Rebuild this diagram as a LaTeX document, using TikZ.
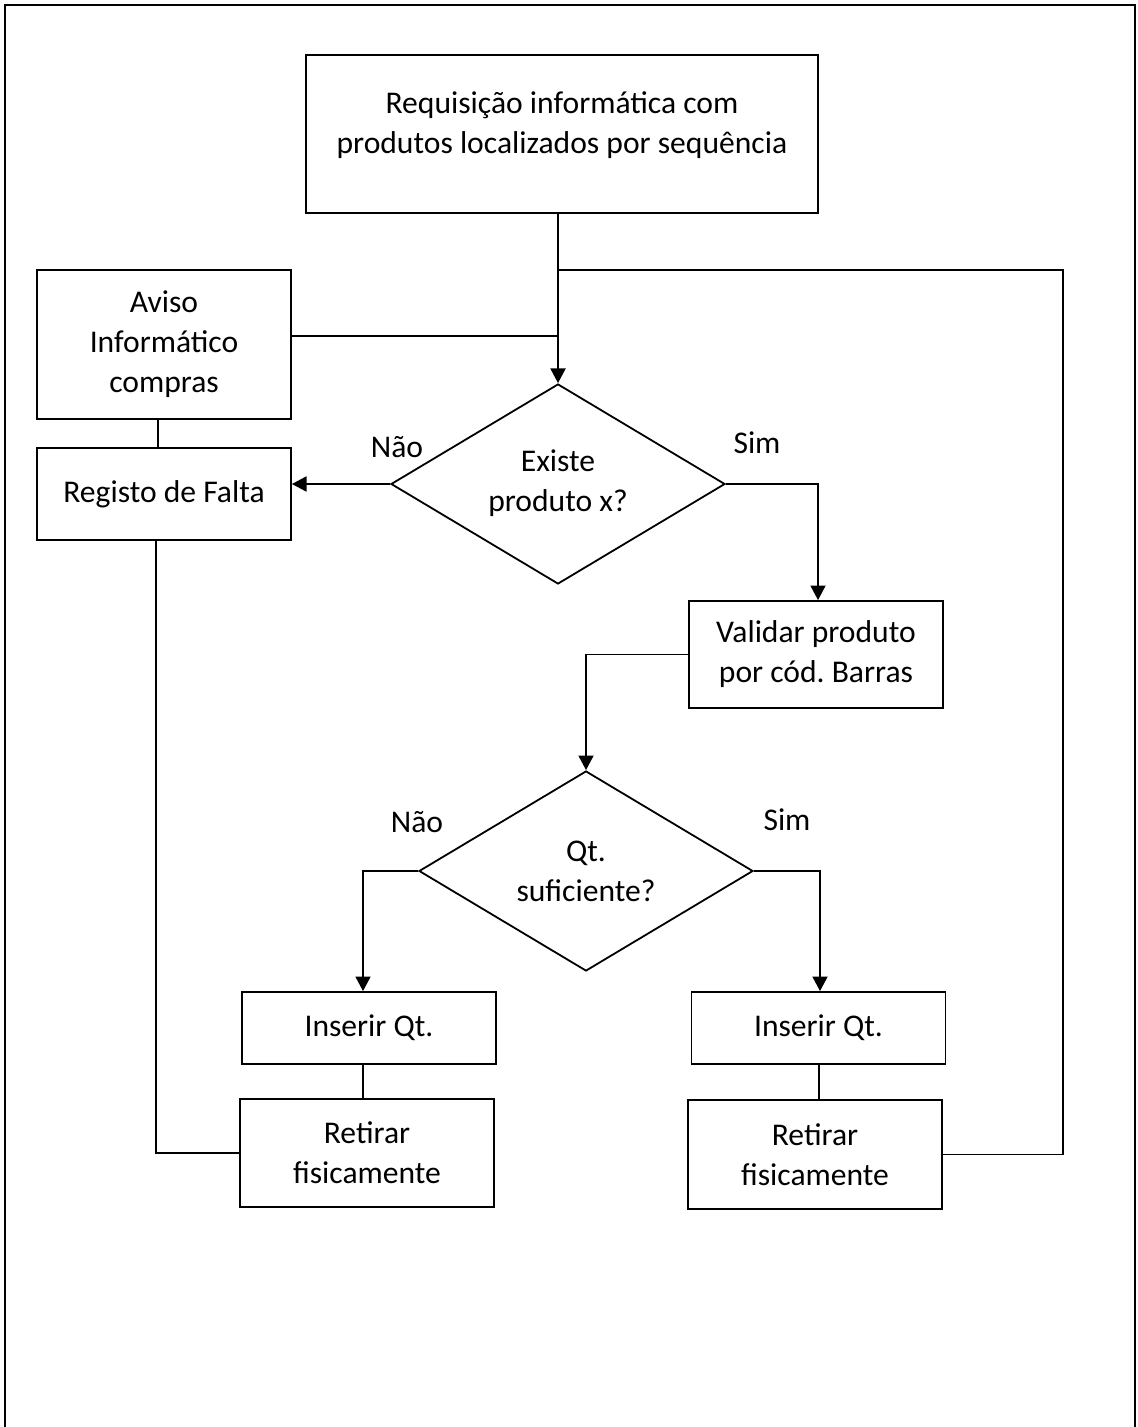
\documentclass[tikz,border=0pt]{standalone}
\usepackage{fontspec}
\setmainfont{Carlito}
\usetikzlibrary{arrows.meta,shapes.geometric}

\tikzset{
  box/.style={draw, line width=0.9pt, inner sep=0pt, align=center},
  dia/.style={draw, diamond, line width=0.9pt, inner sep=0pt,
              minimum width=167pt, minimum height=100pt},
  lbl/.style={inner sep=0pt, align=center},
  link/.style={line width=0.9pt},
  arr/.style={link, -{Triangle[length=7.3pt,width=7.5pt]}},
  frame/.style={line width=1pt},
}

\begin{document}
\frenchspacing
\begin{tikzpicture}[x=0.5pt, y=-0.5pt, font=\fontsize{15.8pt}{20pt}\selectfont]
  \useasboundingbox (0,0) rectangle (1137,1427);

  % page frame, open at the bottom
  \draw[frame] (5,1427) -- (5,5) -- (1135,5) -- (1135,1427);

  % process boxes and decisions
  \node[box, minimum width=256pt, minimum height=79pt] (req) at (562,134) {};
  \node[lbl] (reqtext) at (562,125) {Requisição informática com\\produtos localizados por sequência};
  \node[box, minimum width=127pt, minimum height=74.5pt] (aviso) at (164,344.5) {Aviso\\Informático\\compras};
  \node[box, minimum width=127pt, minimum height=46pt] (falta) at (164,494) {Registo de Falta};
  \node[dia] (d1) at (558,484) {};
  \node[lbl] (d1text) at (558,483) {Existe\\produto x?};
  \node[box, minimum width=127pt, minimum height=53.5pt] (valid) at (816,654.5) {Validar produto\\por cód. Barras};
  \node[dia] (d2) at (586,871) {};
  \node[lbl] (d2text) at (586,871) {Qt.\\suficiente?};
  \node[box, minimum width=127pt, minimum height=36pt] (insL) at (369,1028) {Inserir Qt.};
  \node[box, minimum width=127pt, minimum height=54pt] (retL) at (367,1153) {Retirar\\fisicamente};
  \node[box, minimum width=127pt, minimum height=36pt] (insR) at (818.5,1028) {Inserir Qt.};
  \node[box, minimum width=127pt, minimum height=54.5pt] (retR) at (815,1154.5) {Retirar\\fisicamente};

  % branch labels
  \node[lbl] (nao1) at (397,447) {Não};
  \node[lbl] (sim1) at (757,443) {Sim};
  \node[lbl] (nao2) at (417,822) {Não};
  \node[lbl] (sim2) at (787,820) {Sim};

  % routing points
  \coordinate (topj) at (559,270);
  \coordinate (avj) at (559,336);
  \coordinate (loopc) at (1063,270);
  \coordinate (avx) at (158,0);
  \coordinate (rail) at (156,1155);
  \coordinate (s1) at (818,485);
  \coordinate (qL) at (363,872);
  \coordinate (qR) at (820,872);
  \coordinate (qR2) at (819,0);

  % connectors
  \draw[arr] (req.south -| d1.north) -- (d1.north);
  \draw[link] (aviso.east |- avj) -- (avj);
  \draw[link] (retR.east) -| (loopc) -- (topj);
  \draw[link] (aviso.south -| avx) -- (falta.north -| avx);
  \draw[link] (falta.south -| rail) |- (retL.west);
  \draw[arr] (d1.west) -- (falta.east |- d1.west);
  \draw[arr] (d1.east) -| (valid.north -| s1);
  \draw[arr] (valid.west) -| (d2.north);
  \draw[arr] (d2.west) -| (insL.north -| qL);
  \draw[arr] (d2.east) -| (insR.north -| qR);
  \draw[link] (insL.south -| qL) -- (retL.north -| qL);
  \draw[link] (insR.south -| qR2) -- (retR.north -| qR2);
\end{tikzpicture}
\end{document}
